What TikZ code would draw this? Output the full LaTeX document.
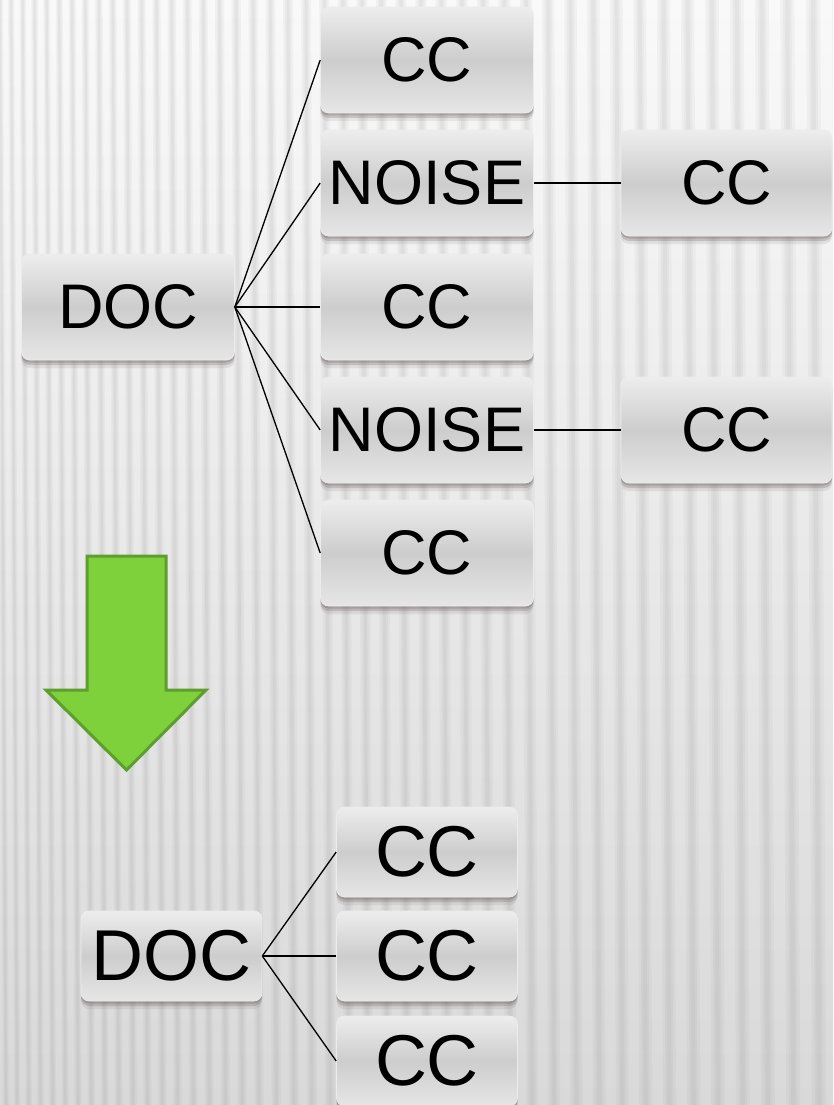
\documentclass[tikz,border=0pt]{standalone}
\usepackage{fontspec}
\setmainfont{Liberation Sans}
\usetikzlibrary{shadows}
\definecolor{boxtop}{HTML}{EDEDED}
\definecolor{boxmid}{HTML}{CDCDCD}
\definecolor{boxbot}{HTML}{E6E6E6}
\definecolor{shadowc}{HTML}{6E6262}
\definecolor{arrowfill}{HTML}{7ED13B}
\definecolor{arrowline}{HTML}{5E9E2E}
\definecolor{bgtop}{HTML}{F9F9F9}
\definecolor{bgbot}{HTML}{D9D9D9}
\tikzset{
  x=1pt, y=-1pt,
  boxbase/.style={rectangle, rounded corners=8pt, inner sep=0pt,
    top color=boxtop, bottom color=boxbot, middle color=boxmid,
    draw=white!85!gray, line width=0.6pt,
    drop shadow={shadow xshift=0pt, shadow yshift=-8pt, opacity=0.12, fill=shadowc},
    drop shadow={shadow xshift=0pt, shadow yshift=-5pt, opacity=0.25, fill=shadowc},
    drop shadow={shadow xshift=0pt, shadow yshift=-2.5pt, opacity=0.3, fill=shadowc},
    text=black},
  bigbox/.style={boxbase, minimum width=213pt, minimum height=106pt,
    font=\fontsize{63}{63}\selectfont},
  smallbox/.style={boxbase, minimum width=181pt, minimum height=90pt,
    font=\fontsize{72}{72}\selectfont},
  link/.style={draw=black, line width=1.3pt},
  stripe/.style={draw=gray, opacity=0.06}
}
\begin{document}
\begin{tikzpicture}
\useasboundingbox (0,0) rectangle (833,1105);
% background
\begin{scope}
\clip (0,0) rectangle (833,1105);
\shade[top color=bgtop, bottom color=bgbot] (0,0) rectangle (833,1105);
\foreach \i in {0,...,46} {
  \pgfmathsetmacro\xx{11*\i+0.17*\i*\i}
  \pgfmathsetmacro\ww{0.55*(11+0.34*\i)}
  \pgfmathsetmacro\wb{0.6*\ww}
  \pgfmathsetmacro\wc{0.3*\ww}
  \draw[stripe, line width=\ww pt] (\xx,0) -- (\xx+6,1105);
  \draw[stripe, line width=\wb pt] (\xx,0) -- (\xx+6,1105);
  \draw[stripe, line width=\wc pt] (\xx,0) -- (\xx+6,1105);
}
\end{scope}

% top tree
\node[bigbox] (doc) at (128,307) {DOC};
\node[bigbox] (c1) at (427,60) {CC};
\node[bigbox] (n1) at (427,183) {NOISE};
\node[bigbox] (c3) at (427,307) {CC};
\node[bigbox] (n2) at (427,430) {NOISE};
\node[bigbox] (c5) at (427,553) {CC};
\node[bigbox, minimum width=211pt] (r1) at (726.5,183) {CC};
\node[bigbox, minimum width=211pt] (r2) at (726.5,430) {CC};

\foreach \t in {c1,n1,c3,n2,c5} {
  \draw[link] (doc.east) -- (\t.west);
}
\draw[link] (n1.east) -- (r1.west);
\draw[link] (n2.east) -- (r2.west);

% green arrow
\draw[fill=arrowfill, draw=arrowline, line width=3pt, line join=miter]
  (87,556) -- (166,556) -- (166,690) -- (206,690) -- (126.5,770)
  -- (46,690) -- (87,690) -- cycle;

% bottom tree
\node[smallbox] (bdoc) at (171.5,956) {DOC};
\node[smallbox] (b1) at (427,852) {CC};
\node[smallbox] (b2) at (427,956) {CC};
\node[smallbox] (b3) at (427,1061) {CC};
\foreach \t in {b1,b2,b3} {
  \draw[link] (bdoc.east) -- (\t.west);
}
\end{tikzpicture}
\end{document}
